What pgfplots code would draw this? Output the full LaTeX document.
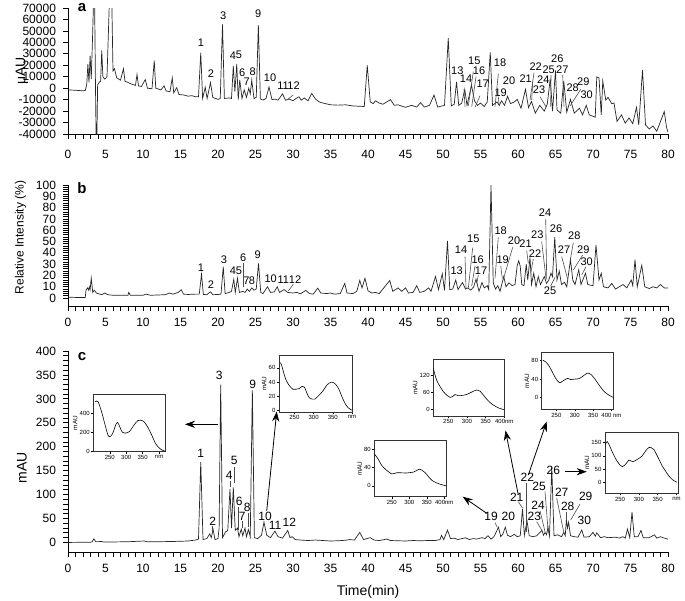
\documentclass[border=0pt]{standalone}
\usepackage{pgfplots}
\pgfplotsset{compat=1.18}
\usepackage{fontspec}
\setmainfont{Liberation Sans}
\usetikzlibrary{arrows.meta}

\pgfplotsset{
  chrom/.style={
    scale only axis, width=300pt, xmin=0, xmax=80,
    anchor=south west,
    axis x line*=bottom, axis y line*=left,
    xtick={0,5,...,80}, minor x tick num=4,
    tick align=outside, major tick length=2.5pt, minor tick length=2.5pt,
    tick style={black, line width=0.4pt},
    axis line style={black, line width=0.4pt},
    tick label style={font=\fontsize{6}{7}\selectfont},
    /pgf/number format/assume math mode=true,
    /pgf/number format/1000 sep={},
    scaled ticks=false,
    clip=true,
  },
  trace/.style={black!85, line width=0.35pt, no marks},
  inset/.style={
    scale only axis, anchor=south west,
    axis background/.style={fill=white},
    axis line style={black!80, line width=0.35pt},
    tick align=outside, major tick length=1pt, tick pos=left,
    tick style={black, line width=0.25pt},
    tick label style={font=\fontsize{3}{3.5}\selectfont, inner sep=0.6pt},
    ylabel={mAU}, ylabel style={font=\fontsize{3.2}{3.5}\selectfont, inner sep=0.3pt},
    xtick={250,300,350,400},
    /pgf/number format/assume math mode=true,
    scaled ticks=false,
  },
  spec/.style={black, line width=0.3pt, no marks, smooth},
}
\tikzset{
  lbl/.style={font=\fontsize{5.5}{6}\selectfont, inner sep=0pt},
  lblc/.style={font=\fontsize{6}{7}\selectfont, inner sep=0pt},
  ld/.style={black!70, line width=0.3pt},
  arr/.style={black, line width=0.4pt, -{Stealth[length=5pt,width=3.6pt]}},
}

\begin{document}
\begin{tikzpicture}
\useasboundingbox (0,0) rectangle (342.5pt,-300pt);

% ---------------- panel a ----------------
\begin{axis}[chrom, at={(34pt,-67pt)}, height=63pt,
  ymin=-40000, ymax=70000, ytick={-40000,-30000,...,70000},
  ylabel={μAU},
  ylabel style={at={(axis description cs:-0.0767,0.5)}, anchor=center, font=\fontsize{7}{8}\selectfont},
  xticklabel style={yshift=-2pt}]
\addplot[trace] coordinates {
(0,-1500) (1,-1800) (2,-2300) (2.3,-2000) (2.5,3000) (2.65,21000) (2.8,5000) (2.95,28500) (3.1,8000) (3.3,50000) (3.4,75000) (3.55,75000) (3.65,10000) (3.75,-45000) (3.85,-45000) (3.95,3000) (4.2,5500) (4.35,6000) (4.5,33000) (4.65,10000) (4.9,8000) (5.2,10000) (5.5,72000) (5.85,72000) (6.0,15000) (6.2,17000) (6.5,9000) (7.0,7000) (7.4,17000) (7.6,6000) (8.0,5000) (8.5,3500) (9.0,2500) (9.2,12000) (9.4,2000) (9.8,1500) (10.3,7500) (10.6,0) (11.2,-500) (11.5,24000) (11.7,0) (12.4,-1500) (12.8,2000) (13.1,-2500) (13.6,-3000) (13.9,9000) (14.1,-4000) (14.5,500) (14.8,-5500) (15.5,-6000) (16,-7000) (16.5,-6500) (17,-7500) (17.4,-7500) (17.7,31000) (17.95,-9000) (18.3,800) (18.55,-9000) (19.0,4900) (19.3,-8000) (20,-9800) (20.3,-9000) (20.6,55800) (20.85,-9000) (21.5,-8500) (21.8,-9000) (22.04,19400) (22.25,-3000) (22.5,21100) (22.7,-10000) (22.9,7200) (23.2,-9000) (23.5,-1500) (23.8,-8000) (24.1,0) (24.3,-5000) (24.5,7000) (24.8,-9000) (25.1,-8000) (25.38,55000) (25.65,-9500) (26,-10300) (26.4,-9000) (26.8,1100) (27.2,-10000) (27.6,-9500) (28,-10500) (28.6,-5000) (29,-10500) (29.5,-9500) (30,-11000) (30.4,-9000) (30.8,-7500) (31.1,-10500) (31.5,-8500) (32,-11000) (32.5,-4600) (33,-9500) (33.5,-12000) (34,-13000) (35,-14500) (36,-14800) (37,-14500) (38,-15500) (39.5,-16000) (39.9,20000) (40.3,-12000) (40.7,-13500) (41,-11000) (41.5,-13000) (42,-14000) (43,-10000) (43.5,-15000) (44,-14500) (45,-16700) (45.8,-15000) (46.5,-16500) (47,-12600) (47.5,-16500) (48.2,-15000) (48.8,-6000) (49.3,-16500) (50.2,-15000) (50.7,43700) (51.1,-15500) (51.5,-14000) (51.8,5500) (52.1,-15000) (52.5,-13000) (52.9,-1000) (53.2,-15000) (53.8,2600) (54.2,-11000) (54.6,-15000) (55,-13000) (55.5,-16000) (55.9,-12000) (56.3,31300) (56.6,-15000) (57.2,-12000) (57.5,-15000) (57.8,-11000) (58.2,-15000) (58.6,-7000) (59,-13500) (59.5,-12000) (59.9,-9800) (60.4,-17500) (61,-1000) (61.4,-17000) (61.8,-11500) (62.3,-21800) (62.9,-15000) (63.5,-20000) (63.9,-14000) (64.3,8300) (64.6,-20000) (65,15500) (65.2,-19000) (65.7,-21800) (66.1,6300) (66.5,-21000) (67,-9800) (67.5,-21800) (68.2,-17500) (68.6,-23300) (69.1,-15000) (69.5,-23300) (70.3,-25300) (70.5,9800) (70.8,9000) (71.1,-23300) (71.3,6300) (71.7,-10300) (72,-8000) (72.5,-13500) (72.8,-13000) (73.2,-29000) (73.8,-23300) (74.3,-30500) (74.8,-26000) (75.3,-31000) (75.8,-16700) (76.1,-32000) (76.6,16000) (77,-32000) (77.5,-35600) (78,-33000) (78.5,-37600) (79,-29000) (79.5,-20400) (79.8,-34000) (80,-38500)
};
\end{axis}

% ---------------- panel b ----------------
\begin{axis}[chrom, at={(34pt,-153pt)}, height=60.5pt,
  ymin=-7, ymax=100, ytick={0,10,...,100}, minor y tick num=4,
  ylabel={Relative Intensity (\%)},
  ylabel style={at={(axis description cs:-0.079,0.565)}, anchor=center, font=\fontsize{6}{7}\selectfont}]
\addplot[trace] coordinates {
(0,0.8) (1,0.6) (2.3,0.6) (2.4,7) (2.6,9) (2.75,7) (2.85,10) (2.95,7.5) (3.1,17.6) (3.3,5) (3.5,7) (3.8,4.4) (4.5,3) (4.9,4.5) (5.3,3) (6,2.5) (8,2.5) (8.1,5) (8.3,2.5) (10,2.5) (10.4,3.5) (11,2.5) (13,3) (13.5,4.5) (14,3.5) (14.7,5) (15.1,7.4) (15.4,3.5) (16,3.2) (17,3.5) (17.5,3.5) (17.8,21) (18.05,3.2) (18.5,3) (19.0,5.6) (19.3,3) (20,3.2) (20.4,3.5) (20.7,27.7) (20.95,4) (21.5,5) (21.8,6) (22.1,16.5) (22.3,5) (22.6,17.5) (22.85,5) (23.3,6) (23.6,5) (23.9,8) (24.2,6) (24.5,9) (24.8,7) (25.1,8) (25.4,30.7) (25.7,5) (26,4) (26.6,10) (27,5) (27.5,5.5) (27.9,10) (28.2,5) (28.8,7.5) (29.3,5) (30,4.5) (30.5,5) (31,3.8) (31.7,6.8) (32.2,4) (32.7,3.5) (33.3,8.8) (33.7,4.5) (34.5,4) (35,4.5) (35.5,3.5) (36.3,4) (36.9,13) (37.2,4.5) (38,4) (38.5,6) (38.9,15.6) (39.2,9) (39.6,17.6) (40,6.5) (40.5,4.5) (41,5) (41.5,4) (42.9,15.6) (43.3,6) (44,9) (44.5,6) (45,9) (45.4,4.5) (46,5) (46.5,11) (46.9,5) (47.5,6) (48.1,9) (48.4,6) (49,19) (49.4,7.5) (49.9,21.5) (50.2,6.8) (50.6,50.6) (50.9,7.5) (51.3,8) (51.7,16) (52,7.5) (52.6,13.8) (53,8) (53.3,9) (53.7,7) (54.1,10) (54.4,16.8) (54.8,6) (55.2,13.8) (55.5,9) (55.9,11) (56.1,7.5) (56.4,100) (56.7,13.5) (57,8) (57.3,11) (57.6,6) (58.1,19) (58.4,10) (58.8,13.5) (59.2,11) (59.6,12) (59.9,29) (60.1,33) (60.3,28) (60.5,12) (60.8,11) (61.1,30) (61.3,16) (61.6,36) (61.8,12) (62.1,22) (62.4,10) (62.7,19) (63,12) (63.5,19) (63.8,13) (64.1,16) (64.4,22) (64.6,19) (64.9,54) (65.2,16) (65.5,24) (65.8,12) (66.2,14) (66.5,10) (67,34) (67.3,16) (67.6,12) (68.1,25) (68.4,12) (69,22) (69.3,12) (70,11) (70.4,47) (70.8,16) (71.1,22) (71.4,10) (72,9) (72.5,13) (73,8) (73.5,10) (74,12) (74.5,9) (75.1,16) (75.3,11) (75.6,34) (75.9,10) (76.5,29) (76.9,10) (77.5,8.5) (78,10) (78.5,9) (79,12) (79.5,9) (80,9)
};
\end{axis}

% ---------------- panel c ----------------
\begin{axis}[chrom, at={(34pt,-276pt)}, height=100.5pt,
  ymin=-20, ymax=400, ytick={0,50,...,400}, minor y tick num=4,
  ylabel={mAU},
  ylabel style={at={(axis description cs:-0.0767,0.42)}, anchor=center, font=\fontsize{7}{8}\selectfont},
  xlabel={Time(min)},
  xlabel style={at={(axis description cs:0.5,-0.199)}, anchor=center, font=\fontsize{7}{8}\selectfont}]
\addplot[trace] coordinates {
(0,0) (3,0.5) (3.2,1) (3.45,7.6) (3.7,1.5) (4.5,2) (4.7,1) (6,1) (8,1.5) (10.2,3) (10.5,1.5) (12,1.5) (14,2) (15,2.5) (16,3) (16.5,4) (17,5) (17.4,7) (17.7,168) (18,6) (18.5,8) (18.9,18) (19.1,10) (19.35,27) (19.6,6) (20.0,8) (20.15,30) (20.36,330) (20.6,10) (21,22) (21.3,25) (21.6,112) (21.8,30) (22.04,115) (22.3,25) (22.6,30) (22.8,12) (23.1,28) (23.3,14) (23.6,30) (23.8,12) (24.05,27) (24.3,12) (24.58,318) (24.85,10) (25.3,8) (25.8,15) (26.13,42.5) (26.5,15) (27,10) (27.6,23.7) (28,12) (28.6,9) (29.3,25) (29.6,10) (29.9,12) (30.3,6) (31,5) (32,4) (33,5) (35,3) (36,3.5) (37,4.5) (37.5,6) (38.2,5) (38.9,21) (39.4,6) (40.3,10) (40.8,5) (41.5,4) (42.5,7) (43,4) (44,3.5) (45,3) (46,4) (47,3.5) (48,4) (49,4) (49.6,6) (49.8,14.6) (50.1,6) (50.6,25.7) (51,8) (51.5,9) (52,6) (52.5,8) (53,9.7) (53.5,6) (54,8) (54.5,7) (55.2,10) (55.6,8) (56,14) (56.4,7) (56.8,12) (57.4,32) (57.7,12) (58,18) (58.3,32) (58.6,15) (59.0,12) (59.5,17) (59.9,12) (60.3,14) (60.6,70) (60.85,15) (61.2,45) (61.5,14) (62,12) (62.5,14) (63.2,25) (63.4,15) (63.6,21) (63.8,16) (64.0,32) (64.2,14) (64.5,158) (64.8,14) (65.3,16) (65.8,12) (66.1,21) (66.3,14) (66.45,48) (66.6,30) (66.75,42) (67,14) (67.5,12) (68,11) (68.5,26) (68.8,11) (69.5,12) (70,21) (70.3,13) (70.5,20) (71,10) (71.5,12) (72,10) (73,11) (73.5,9) (74,12) (74.3,9) (74.6,28) (74.9,10) (75.2,63.5) (75.5,12) (76,12) (76.4,25) (76.7,10) (77.5,10) (78.2,16) (78.5,9) (79,12) (79.5,9) (80,7)
};
\end{axis}

% ---------------- insets (UV spectra) ----------------
\begin{axis}[inset, at={(46.65pt,-225.85pt)}, width=36.2pt, height=28.7pt,
  xmin=200, xmax=420, ymin=0, ymax=600, ytick={0,200,400}, xticklabels={250,300,350,nm}]
\addplot[spec] coordinates {(205,520) (210,530) (215,520) (225,420) (235,290) (245,170) (252,160) (260,200) (268,280) (273,306) (278,280) (288,205) (300,195) (310,210) (322,270) (335,325) (345,330) (355,310) (365,260) (378,170) (390,80) (405,25) (418,5)};
\end{axis}
\begin{axis}[inset, at={(139.5pt,-206pt)}, width=36.5pt, height=28.5pt,
  xmin=210, xmax=400, ymin=-2, ymax=78, ytick={0,20,40,60}, xticklabels={250,300,350,nm}]
\addplot[spec] coordinates {(212,67) (216,65) (228,43) (240,33) (246,30) (255,30) (263,31) (270,34) (276,33) (283,24) (289,18) (296,16) (303,16) (315,22) (325,28) (335,36) (346,40) (355,38) (364,32) (375,18) (382,10) (390,4) (400,0.5)};
\end{axis}
\begin{axis}[inset, at={(216.65pt,-208pt)}, width=35.5pt, height=28.35pt,
  xmin=210, xmax=400, ymin=-23, ymax=175, ytick={0,60,120}, xticklabels={250,300,350,400nm}]
\addplot[spec] coordinates {(210,143) (219,102) (228,80) (237,62) (246,50) (255,42) (262,45) (268,52) (277,48) (288,49) (299,52) (312,60) (326,68) (335,64) (344,50) (357,30) (371,15) (385,5) (399,-1)};
\end{axis}
\begin{axis}[inset, at={(270.85pt,-204.65pt)}, width=35.8pt, height=28.3pt,
  xmin=210, xmax=405, ymin=-26, ymax=97.5, ytick={0,40,80}, xticklabels={250,300,350,400 nm}]
\addplot[spec] coordinates {(213,81) (220,78) (229,70) (236,60) (243,49) (251,38) (259,32) (266,35) (272,38) (280,41.5) (289,39) (300,40) (312,41) (325,48) (335,53) (344,50) (354,41) (368,25) (381,12) (395,4) (405,0)};
\end{axis}
\begin{axis}[inset, at={(302.5pt,-246.65pt)}, width=36.65pt, height=30.5pt,
  xmin=210, xmax=405, ymin=-42, ymax=189, ytick={0,50,100,150}, xticklabels={250,300,350,nm}]
\addplot[spec] coordinates {(210,141) (216,154) (223,135) (229,116) (236,95) (243,78) (250,65) (256,59) (262,64) (267,72) (274,84) (280,80) (285,78) (293,84) (301,91) (308,98) (314,110) (321,124) (328,132) (334,130) (340,124) (350,97) (361,65) (372,40) (381,22) (390,9) (401,0)};
\end{axis}
\begin{axis}[inset, at={(187.15pt,-248.35pt)}, width=35.85pt, height=28pt,
  xmin=200, xmax=405, ymin=-24, ymax=99, ytick={0,40,80}, xticklabels={250,300,350,400nm}]
\addplot[spec] coordinates {(200,70) (210,60) (221,45) (235,34) (250,26) (257,27) (264,28.6) (278,28.5) (292,28) (302,29) (312,30) (320,33) (329,36.6) (337,34) (345,29) (355,20) (364,12.5) (376,7) (388,3.5) (405,0)};
\end{axis}

% ---------------- annotations (pixel grid) ----------------
\begin{scope}[x=0.5pt,y=-0.5pt]
\node[font=\bfseries\fontsize{7.5}{8}\selectfont] at (82,8) {a};
\node[font=\bfseries\fontsize{7.5}{8}\selectfont] at (82,188) {b};
\node[font=\bfseries\fontsize{7.5}{8}\selectfont] at (82,357) {c};

% panel a labels
\foreach \t/\x/\y in {1/201/42.7,2/211/74,3/223.3/16,4/233/56,5/239/55,6/242.3/72.7,7/246.7/81.7,8/252.7/71.7,9/258.3/14,10/270/77.3,11/283/86,12/293.5/86,13/457.3/71,14/466/78.3,15/474.3/61,16/479/71,17/482.7/83.3,18/500/62.3,19/500.7/92.7,20/509/81,21/525.7/78.3,22/535.7/66.7,23/539/90,24/543.3/80,25/548.7/69.3,26/557.3/58.3,27/562.3/70,28/572.7/87.3,29/583.3/81.7,30/586.7/95}
  \node[lbl] at (\x,\y) {\t};
\foreach \a/\b/\c/\d in {464/89.3/465/106.7, 473.3/71.7/468.3/106, 476/76.7/471.7/106.7, 480/95.7/475/107.3, 498.3/74/495/106.7, 498.3/96.7/499.3/106, 532.7/81.7/531.7/100, 534/72.7/530/100, 540/96.7/546/106.7, 551/75/550.7/106.7, 562.7/75/564/106.7, 580.7/89.3/570/106, 293.3/95/286.7/100}
  \draw[ld] (\a,\b) -- (\c,\d);

% panel b labels
\foreach \t/\x/\y in {1/201/267.7,2/211/284.3,3/224/260,4/233/271,5/239/270.5,6/243.3/257.7,7/246.5/281,8/252/281,9/257.7/255,10/270.7/278.3,11/283.3/280,12/295/280,13/456.7/271,14/461/249.3,15/473.3/238.3,16/477.7/260,17/481/271,18/500.7/230.7,19/502.7/260,20/514/240.7,21/525.5/244,22/535/254,23/537.3/235,24/545/212.7,25/550/291,26/556/228.3,27/564/250,28/574.3/235.7,29/583.3/249.3,30/586.7/261.7}
  \node[lbl] at (\x,\y) {\t};
\foreach \a/\b/\c/\d in {465/256.7/466/288.3, 472.7/247.7/468.3/288.3, 475/266/471.7/286, 478.3/275/476.7/283.3, 498.3/237.3/495/278.3, 500.7/266/502.3/278.3, 512.7/247.3/503.3/279.3, 526.7/250.7/528.3/263.3, 533.3/259/530.7/273.3, 541.7/241.7/546/278.3, 545.7/219.3/546.7/279.3, 550.7/286/555/277.3, 561.7/256.7/567.7/279.3, 573.3/242.7/570/261.7, 582.7/255/573.3/270, 586/266.7/581.7/275, 243.3/263/243.3/287, 293.3/284.3/288.3/291}
  \draw[ld] (\a,\b) -- (\c,\d);

% panel c labels
\foreach \t/\x/\y in {1/200.7/453.3,2/212.7/521,3/219.3/375,4/229.3/475.7,5/234.3/460.7,6/239.3/501,7/242.3/516,8/247.3/507.7,9/252.7/384,10/265/516.7,11/275/525,12/289.3/522.7,19/491/516.7,20/508.3/516.7,21/516.7/497.3,22/527.3/477.7,23/534.3/516,24/538/505,25/539/486.7,26/553.3/470,27/561.7/492.3,28/567.7/506.7,29/585.7/496.7,30/584.3/520}
  \node[lblc] at (\x,\y) {\t};
\foreach \a/\b/\c/\d in {212.7/526/212.7/533.3, 230/480.7/230/486.7, 234/467.3/234/483.3, 238.3/506.7/238.3/530, 242.3/521/242.3/528.3, 248.3/512.7/248.3/526.7, 495/522.7/497.3/527.3, 518.3/501.7/522.7/508.3, 526.7/483.3/526.7/531.7, 536.7/521.7/541.7/530, 540/510.7/545/531.7, 545/491.7/548.3/533.3, 556.7/498.3/564/533.3, 566/511.7/566/520, 580/504/570.7/520}
  \draw[ld] (\a,\b) -- (\c,\d);

% arrows to spectra
\draw[arr] (218.3,424.3) -- (185,424.3);
\draw[arr] (266.7,511) -- (276.7,411.5);
\draw[arr] (486.7,513.3) -- (462.7,496.7);
\draw[arr] (518.3,495) -- (505.5,430.5);
\draw[arr] (528.3,475) -- (546.7,421.5);
\draw[arr] (565,471.7) -- (586.7,471.7);
\end{scope}
\end{tikzpicture}
\end{document}
